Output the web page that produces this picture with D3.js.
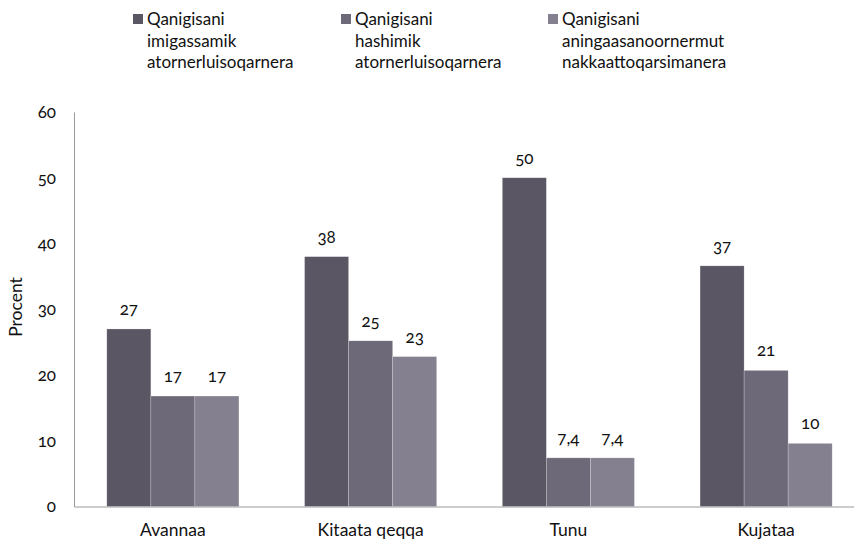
<!DOCTYPE html>
<html>
<head>
<meta charset="utf-8">
<script src="https://cdn.jsdelivr.net/npm/d3@7"></script>
<style>
  body { margin: 0; background: #fff; }
  svg text { font-family: Lato, "Open Sans", sans-serif; fill: #111; font-variant-numeric: oldstyle-nums; }
</style>
</head>
<body>
<script>
// données
const CATEGORIES = ['Avannaa', 'Kitaata qeqqa', 'Tunu', 'Kujataa']
const SERIES = [
  'Qanigisani imigassamik atornerluisoqarnera',
  'Qanigisani hashimik atornerluisoqarnera',
  'Qanigisani aningaasanoornermut nakkaattoqarsimanera'
]
const VALUES_1 = [27, 38, 50, 36.6]
const VALUES_2 = [16.8, 25.2, 7.4, 20.7]
const VALUES_3 = [16.8, 22.8, 7.4, 9.6]
const LABELS_1 = ['27', '38', '50', '37']
const LABELS_2 = ['17', '25', '7,4', '21']
const LABELS_3 = ['17', '23', '7,4', '10']
const Y_TICKS = [0, 10, 20, 30, 40, 50, 60]

const COLORS = ['#5a5664', '#6e6979', '#85808f']

const WIDTH = 854
const HEIGHT = 544

const svg = d3.select('body').append('svg')
  .attr('width', WIDTH)
  .attr('height', HEIGHT)

const values = [VALUES_1, VALUES_2, VALUES_3]
const labels = [LABELS_1, LABELS_2, LABELS_3]

// échelles
const x0 = d3.scaleBand()
  .domain(CATEGORIES)
  .range([74, 865])
  .paddingInner(0.332)
  .paddingOuter(0.166)

const x1 = d3.scaleBand()
  .domain(d3.range(SERIES.length))
  .range([0, x0.bandwidth()])

const y = d3.scaleLinear()
  .domain([0, 60])
  .range([506.5, 112])

// bâtons
const groups = svg.selectAll('g.group')
  .data(CATEGORIES)
  .enter()
  .append('g')
  .attr('class', 'group')
  .attr('transform', d => `translate(${x0(d)},0)`)

const cells = (c, ci) => SERIES.map((s, si) => ({ si, v: values[si][ci], label: labels[si][ci] }))

groups.selectAll('rect')
  .data(cells)
  .enter()
  .append('rect')
  .attr('x', d => x1(d.si))
  .attr('width', x1.bandwidth())
  .attr('y', d => y(d.v))
  .attr('height', d => y(0) - y(d.v))
  .attr('fill', d => COLORS[d.si])
  .attr('stroke', 'rgba(255,255,255,0.35)')
  .attr('stroke-width', 0.6)

groups.selectAll('text.val')
  .data(cells)
  .enter()
  .append('text')
  .attr('class', 'val')
  .attr('x', d => x1(d.si) + x1.bandwidth() / 2)
  .attr('y', d => y(d.v) - 14)
  .attr('text-anchor', 'middle')
  .style('font-size', '17px')
  .text(d => d.label)

// axes
const yAxis = svg.append('g')
  .attr('transform', 'translate(74,0)')
  .call(d3.axisLeft(y).tickValues(Y_TICKS).tickSize(0).tickSizeOuter(0).tickPadding(18))
yAxis.select('.domain').attr('stroke', '#9a9a9a')
yAxis.selectAll('text').style('font-size', '17px')

const xAxis = svg.append('g')
  .attr('transform', `translate(0,${y(0)})`)
  .call(d3.axisBottom(x0).tickSize(0).tickSizeOuter(0).tickPadding(17))
xAxis.select('.domain').attr('stroke', '#9a9a9a')
xAxis.selectAll('text').style('font-size', '17.5px')

svg.selectAll('.tick text').attr('fill', '#111')

// titre de l'axe
svg.append('text')
  .attr('transform', 'translate(22,307) rotate(-90)')
  .attr('text-anchor', 'middle')
  .style('font-size', '17.5px')
  .text('Procent')

// légende
const LEGEND_X = [133, 341, 548]
const legend = svg.selectAll('g.legend')
  .data(SERIES)
  .enter()
  .append('g')
  .attr('class', 'legend')
  .attr('transform', (d, i) => `translate(${LEGEND_X[i]},0)`)

legend.append('rect')
  .attr('x', 0)
  .attr('y', 14)
  .attr('width', 10)
  .attr('height', 10)
  .attr('fill', (d, i) => COLORS[i])

legend.append('text')
  .style('font-size', '17px')
  .selectAll('tspan')
  .data(d => d.split(' '))
  .enter()
  .append('tspan')
  .attr('x', 14)
  .attr('y', (d, i) => 25 + i * 21.5)
  .text(d => d)
</script>
</body>
</html>
